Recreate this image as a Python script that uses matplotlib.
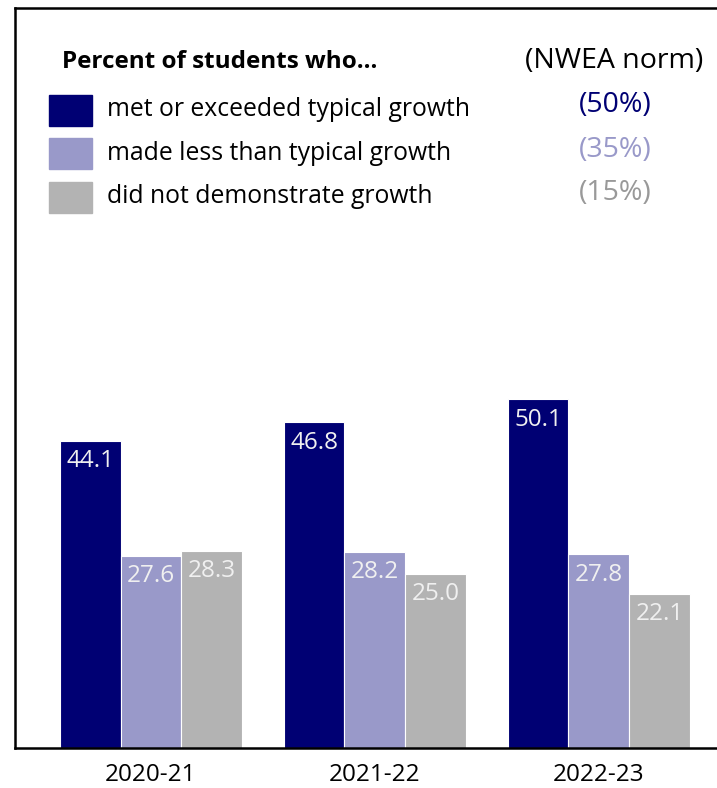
import numpy as np
import matplotlib.pyplot as plt
from matplotlib.patches import Rectangle

plt.rcParams['font.family'] = ['Open Sans', 'DejaVu Sans']

# Datos
years = ["2020-21", "2021-22", "2022-23"]
met = [44.1, 46.8, 50.1]
less = [27.6, 28.2, 27.8]
no_growth = [28.3, 25.0, 22.1]

series_labels = ["met or exceeded typical growth",
                 "made less than typical growth",
                 "did not demonstrate growth"]
norms = ["(50%)", "(35%)", "(15%)"]
colors = ["#000073", "#9999c9", "#b3b3b3"]
norm_colors = ["#000073", "#9999c9", "#999999"]

W, H = 717, 788
fig = plt.figure(figsize=(W / 100, H / 100), dpi=100)

# Ejes en coordenadas de píxel
left, right, top, bottom = 15, 717, 8, 748
ax = fig.add_axes([left / W, 1 - bottom / H, (right - left) / W, (bottom - top) / H])

x = np.arange(len(years))
width = 0.272
for i, vals in enumerate([met, less, no_growth]):
    bars = ax.bar(x + (i - 1) * width, vals, width, color=colors[i],
                  edgecolor="white", linewidth=0.8)
    for b, v in zip(bars, vals):
        ax.annotate(f"{v:.1f}", (b.get_x() + b.get_width() / 2, v),
                    xytext=(0, -6), textcoords="offset points",
                    ha="center", va="top", color="#f0f0f0", fontsize=17.5)

ax.set_xlim(-0.607, 2.527)
ax.set_ylim(0, 106.3)
ax.set_xticks(x)
ax.set_xticklabels(years, fontsize=17.5)
ax.tick_params(axis="x", length=0, pad=11)
ax.set_yticks([])
ax.spines["right"].set_visible(False)
for s in ["left", "bottom", "top"]:
    ax.spines[s].set_linewidth(1.8)

# Leyenda dibujada a mano (posiciones en píxeles desde arriba)
def fy(py):
    return 1 - py / H

fig.text(62 / W, fy(68), "Percent of students who...", fontsize=17.5,
         fontweight="bold", va="baseline", ha="left")
fig.text(614 / W, fy(68), "(NWEA norm)", fontsize=20.5, va="baseline", ha="center")
box_tops = [95, 138, 182]
text_base = [116, 160, 203]
norm_base = [112, 157, 200]
for lab, nm, c, nc, bt, tb, nb in zip(series_labels, norms, colors, norm_colors,
                                      box_tops, text_base, norm_base):
    fig.patches.append(Rectangle((49 / W, fy(bt + 31)), 43 / W, 31 / H,
                                 transform=fig.transFigure, color=c))
    fig.text(107 / W, fy(tb), lab, fontsize=17.8, va="baseline", ha="left")
    fig.text(615 / W, fy(nb), nm, fontsize=20.5, va="baseline", ha="center", color=nc)

plt.savefig("out.png", dpi=100)
